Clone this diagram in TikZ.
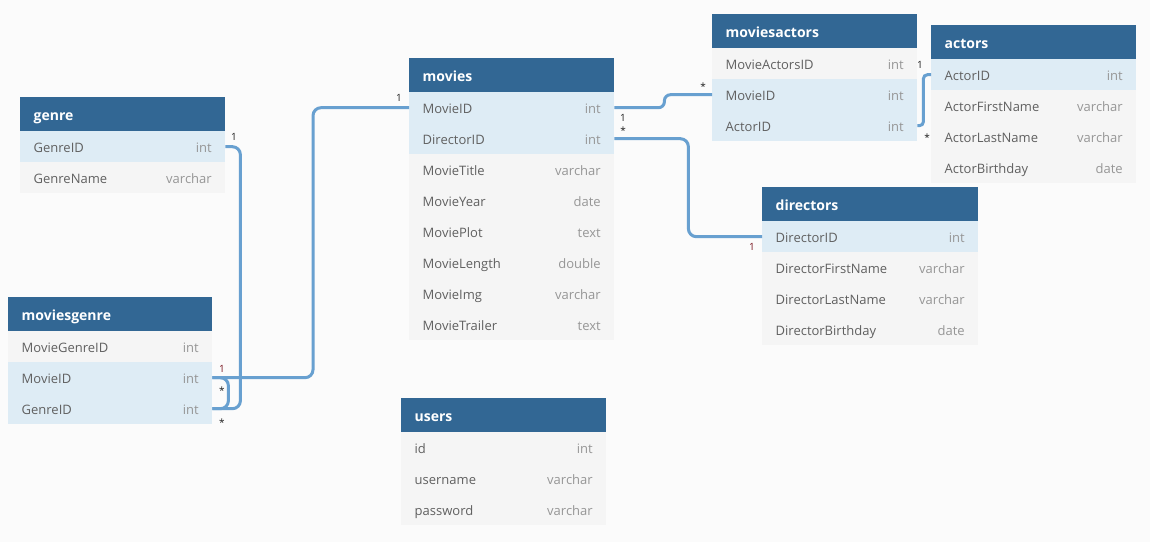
\documentclass[tikz,border=0pt]{standalone}
\usepackage{fontspec}
\setmainfont{Open Sans}

\definecolor{headcol}{RGB}{50,103,148}
\definecolor{hl}{RGB}{222,236,245}
\definecolor{pl}{RGB}{245,245,245}
\definecolor{bgcol}{RGB}{251,251,251}
\definecolor{fieldcol}{RGB}{96,96,96}
\definecolor{typecol}{RGB}{150,150,150}
\definecolor{linkcol}{RGB}{104,160,208}
\definecolor{cardcol}{RGB}{30,30,30}
\definecolor{cardred}{RGB}{120,20,30}

% table: id, x, y, width, title, rows (name/type/fill)
\newcommand{\erdtable}[6]{%
  \pgfmathsetmacro\tw{#4-27}
  \node[tblhead, text width=\tw pt, anchor=north west] (#1) at (#2,#3) {#5};
  \foreach \fname/\ftype/\fhl [count=\i] in {#6} {
    \node[tblrow, fill=\fhl, text width=\tw pt, anchor=north west] (#1-\fname)
      at (#2,#3+3+31*\i) {\textcolor{fieldcol}{\fname}\hfill\textcolor{typecol}{\ftype}};
  }
}

\begin{document}
\begin{tikzpicture}[x=1pt,y=-1pt,
  tblhead/.style={fill=headcol, text=white, inner xsep=13.5pt, inner ysep=0pt,
    minimum height=34pt, text height=12pt, text depth=0pt, align=left,
    font=\fontsize{14}{16}\selectfont\bfseries},
  tblrow/.style={inner xsep=13.5pt, inner ysep=0pt, minimum height=31pt,
    text height=11.6pt, text depth=0pt, align=left,
    font=\fontsize{13}{15}\selectfont},
  link/.style={draw=linkcol, line width=3pt, rounded corners=8pt},
  card/.style={inner sep=0pt, text=cardcol, font=\fontsize{10}{12}\selectfont}]

  \fill[bgcol] (0,0) rectangle (1150,542);
  \useasboundingbox (0,0) rectangle (1150,542);

  % tables
  \erdtable{genre}{20}{97}{205}{genre}{GenreID/int/hl, GenreName/varchar/pl}
  \erdtable{mg}{8}{297}{204}{moviesgenre}{MovieGenreID/int/pl, MovieID/int/hl, GenreID/int/hl}
  \erdtable{mv}{409}{58}{205}{movies}{MovieID/int/hl, DirectorID/int/hl, MovieTitle/varchar/pl,
    MovieYear/date/pl, MoviePlot/text/pl, MovieLength/double/pl, MovieImg/varchar/pl, MovieTrailer/text/pl}
  \erdtable{ma}{712}{14}{205}{moviesactors}{MovieActorsID/int/pl, MovieID/int/hl, ActorID/int/hl}
  \erdtable{act}{931}{25}{205}{actors}{ActorID/int/hl, ActorFirstName/varchar/pl,
    ActorLastName/varchar/pl, ActorBirthday/date/pl}
  \erdtable{dir}{762}{187}{216}{directors}{DirectorID/int/hl, DirectorFirstName/varchar/pl,
    DirectorLastName/varchar/pl, DirectorBirthday/date/pl}
  \erdtable{usr}{401}{398}{205}{users}{id/int/pl, username/varchar/pl, password/varchar/pl}

  % links
  \draw[link] (genre-GenreID.east) -- ++(15,0) |- (mg-GenreID.east);
  \draw[link] (mv-MovieID.west) -- ++(-96,0) |- (mg-MovieID.east);
  \draw[link] (mg-MovieID.east) -- ++(16,0) |- (mg-GenreID.east);
  \draw[link, rounded corners=6pt] (mv-MovieID.east) -- ++(50,0) |- (ma-MovieID.west);
  \draw[link] (mv-DirectorID.east) -- ++(74,0) |- (dir-DirectorID.west);
  \draw[link, rounded corners=4pt] (ma-ActorID.east) -- ++(6,0) |- (act-ActorID.west);

  % cardinalities
  \node[card] (c-genre) at (234,137) {1};
  \node[card] (c-mggenre) at (222,423) {*};
  \node[card] (c-mvleft) at (399,98) {1};
  \node[card, text=cardred] (c-mgmovie) at (222,369) {1};
  \node[card] (c-mgmovie2) at (222,391) {*};
  \node[card] (c-mvright) at (623,118) {1};
  \node[card] (c-mamovie) at (703,87) {*};
  \node[card] (c-mvdir) at (623,131) {*};
  \node[card, text=cardred] (c-dir) at (752,247) {1};
  \node[card] (c-act) at (920,65) {1};
  \node[card] (c-maact) at (927,138) {*};
\end{tikzpicture}
\end{document}
